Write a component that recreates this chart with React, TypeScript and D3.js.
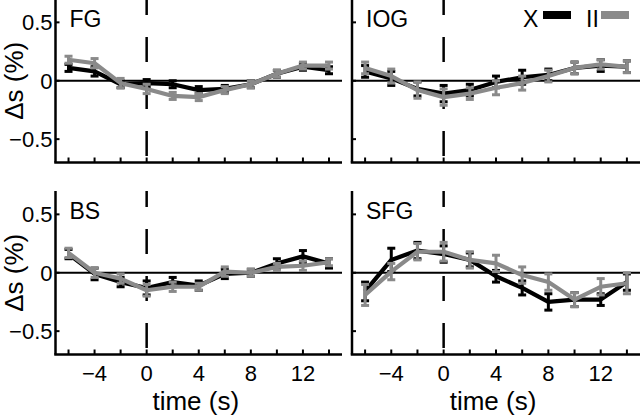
import React from "react";
import * as d3 from "d3";

const times = [-6, -4, -2, 0, 2, 4, 6, 8, 10, 12, 14];
const xTickValues = [-6, -4, -2, 0, 2, 4, 6, 8, 10, 12, 14];
const xTickLabels = [-4, 0, 4, 8, 12];
const yTickValues = [-0.5, 0, 0.5];
const yTickLabels = ["\u22120.5", "0", "0.5"];

const panelNames = ["FG", "IOG", "BS", "SFG"];

const fgX = [0.11, 0.08, -0.03, -0.02, -0.03, -0.08, -0.07, -0.03, 0.06, 0.12, 0.09];
const fgII = [0.18, 0.15, -0.02, -0.07, -0.13, -0.14, -0.08, -0.03, 0.06, 0.13, 0.13];
const fgXErr = [0.03, 0.04, 0.03, 0.03, 0.03, 0.03, 0.03, 0.03, 0.03, 0.03, 0.03];
const fgIIErr = [0.03, 0.04, 0.04, 0.04, 0.03, 0.03, 0.03, 0.03, 0.03, 0.03, 0.03];

const iogX = [0.08, 0.02, -0.07, -0.11, -0.08, -0.01, 0.03, 0.05, 0.11, 0.13, 0.12];
const iogII = [0.11, 0.04, -0.08, -0.14, -0.11, -0.06, -0.02, 0.04, 0.11, 0.14, 0.12];
const iogXErr = [0.05, 0.06, 0.06, 0.07, 0.05, 0.05, 0.06, 0.05, 0.05, 0.05, 0.05];
const iogIIErr = [0.05, 0.06, 0.07, 0.07, 0.05, 0.06, 0.06, 0.05, 0.05, 0.04, 0.05];

const bsX = [0.16, -0.01, -0.08, -0.13, -0.08, -0.11, -0.01, 0.0, 0.08, 0.14, 0.08];
const bsII = [0.17, 0.0, -0.05, -0.15, -0.12, -0.12, 0.01, 0.0, 0.05, 0.06, 0.09];
const bsXErr = [0.04, 0.05, 0.04, 0.06, 0.04, 0.04, 0.04, 0.03, 0.04, 0.05, 0.04];
const bsIIErr = [0.04, 0.04, 0.04, 0.05, 0.04, 0.03, 0.04, 0.03, 0.03, 0.04, 0.03];

const sfgX = [-0.16, 0.11, 0.19, 0.16, 0.11, -0.03, -0.13, -0.25, -0.23, -0.23, -0.08];
const sfgII = [-0.19, 0.01, 0.18, 0.18, 0.11, 0.08, -0.02, -0.08, -0.23, -0.12, -0.09];
const sfgXErr = [0.08, 0.1, 0.07, 0.07, 0.06, 0.05, 0.06, 0.07, 0.06, 0.05, 0.07];
const sfgIIErr = [0.09, 0.07, 0.07, 0.08, 0.07, 0.07, 0.07, 0.07, 0.06, 0.07, 0.09];

const seriesX = [fgX, iogX, bsX, sfgX];
const seriesII = [fgII, iogII, bsII, sfgII];
const errX = [fgXErr, iogXErr, bsXErr, sfgXErr];
const errII = [fgIIErr, iogIIErr, bsIIErr, sfgIIErr];

const legendLabels = ["X", "II"];
const colors = ["#000000", "#8a8a8a"];

const FONT = "'Liberation Sans', Arial, sans-serif";

const panelLeft = [55.5, 352];
const panelRight = [342, 640];
const panelTop = [-1, 191];
const panelH = 163.5;

function Series({ vals, errs, color, x, y }: any) {
  const line = d3
    .line<number>()
    .x((_, i) => x(times[i]))
    .y((d) => y(d));
  return (
    <g>
      <path d={line(vals) || ""} fill="none" stroke={color} strokeWidth={4.2} strokeLinejoin="round" />
      {vals.map((v: number, i: number) => {
        const cx = x(times[i]);
        const y1 = y(v - errs[i]);
        const y2 = y(v + errs[i]);
        return (
          <g key={i}>
            <line x1={cx} x2={cx} y1={y1} y2={y2} stroke={color} strokeWidth={3} />
            <line x1={cx - 4} x2={cx + 4} y1={y1} y2={y1} stroke={color} strokeWidth={3} />
            <line x1={cx - 4} x2={cx + 4} y1={y2} y2={y2} stroke={color} strokeWidth={3} />
          </g>
        );
      })}
    </g>
  );
}

function Panel({ idx }: { idx: number }) {
  const col = idx % 2;
  const row = Math.floor(idx / 2);
  const x0 = panelLeft[col];
  const x1 = panelRight[col];
  const top = panelTop[row];
  const bottom = top + panelH;
  const x = d3.scaleLinear().domain([-7, 15]).range([x0, x1]);
  const y = d3.scaleLinear().domain([-0.7, 0.7]).range([bottom, top]);
  return (
    <g>
      {/* dashed line at t = 0 */}
      <line
        x1={x(0)}
        x2={x(0)}
        y1={top}
        y2={bottom}
        stroke="#000"
        strokeWidth={2.5}
        strokeDasharray="25 22"
        strokeDashoffset={9}
      />
      {/* zero line */}
      <line x1={x0} x2={x1} y1={y(0)} y2={y(0)} stroke="#000" strokeWidth={2} />
      <Series vals={seriesX[idx]} errs={errX[idx]} color={colors[0]} x={x} y={y} />
      <Series vals={seriesII[idx]} errs={errII[idx]} color={colors[1]} x={x} y={y} />
      {/* axes */}
      <line x1={x0} x2={x0} y1={top} y2={bottom} stroke="#000" strokeWidth={2.5} />
      <line x1={x0 - 1.25} x2={x1} y1={bottom} y2={bottom} stroke="#000" strokeWidth={2.5} />
      {xTickValues.map((t) => (
        <line key={t} x1={x(t)} x2={x(t)} y1={bottom} y2={bottom - 5} stroke="#000" strokeWidth={2} />
      ))}
      {yTickValues.map((v) => (
        <line key={v} x1={x0} x2={x0 + 4} y1={y(v)} y2={y(v)} stroke="#000" strokeWidth={2} />
      ))}
      {col === 0 &&
        yTickValues.map((v, i) => (
          <text
            key={v}
            x={x0 - 3}
            y={y(v) + 8}
            textAnchor="end"
            fontSize={22}
            fontFamily={FONT}
            fill="#000"
          >
            {yTickLabels[i]}
          </text>
        ))}
      {col === 0 && (
        <text
          transform={`translate(23,${y(0)}) rotate(-90)`}
          textAnchor="middle"
          fontSize={26}
          fontFamily={FONT}
          fill="#000"
        >
          Δs (%)
        </text>
      )}
      {row === 1 &&
        xTickLabels.map((t) => (
          <text
            key={t}
            x={x(t)}
            y={bottom + 26}
            textAnchor="middle"
            fontSize={22}
            fontFamily={FONT}
            fill="#000"
          >
            {t < 0 ? "\u2212" + Math.abs(t) : String(t)}
          </text>
        ))}
      {row === 1 && (
        <text
          x={(x0 + x1) / 2 - 3}
          y={bottom + 55}
          textAnchor="middle"
          fontSize={26}
          fontFamily={FONT}
          fill="#000"
        >
          time (s)
        </text>
      )}
      <text x={x0 + 14} y={top + 28} fontSize={23} fontFamily={FONT} fill="#000">
        {panelNames[idx]}
      </text>
    </g>
  );
}

export default function App() {
  return (
    <svg width={640} height={416} style={{ position: "absolute", left: 0, top: 0, background: "#fff" }}>
      <rect x={0} y={0} width={640} height={416} fill="#fff" />
      {[0, 1, 2, 3].map((i) => (
        <Panel key={i} idx={i} />
      ))}
      {/* legend */}
      <text x={523} y={27} fontSize={23} fontFamily={FONT} fill="#000">
        {legendLabels[0]}
      </text>
      <rect x={543} y={11} width={28} height={8} fill={colors[0]} />
      <text x={586} y={27} fontSize={23} fontFamily={FONT} fill="#000">
        {legendLabels[1]}
      </text>
      <rect x={601} y={11} width={28} height={8} fill={colors[1]} />
    </svg>
  );
}
